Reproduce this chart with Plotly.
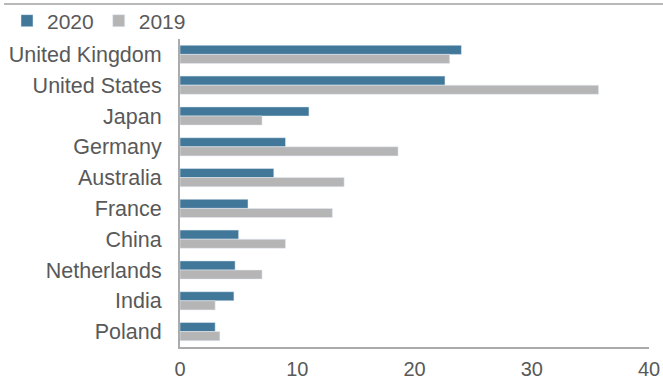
import plotly.graph_objects as go

countries = ["United Kingdom", "United States", "Japan", "Germany", "Australia",
             "France", "China", "Netherlands", "India", "Poland"]
v2020 = [24.0, 22.6, 11.0, 9.0, 8.0, 5.8, 5.0, 4.7, 4.6, 3.0]
v2019 = [23.0, 35.7, 7.0, 18.6, 14.0, 13.0, 9.0, 7.0, 3.0, 3.4]
xticks = [0, 10, 20, 30, 40]

fig = go.Figure()
fig.add_trace(go.Bar(y=countries, x=v2020, orientation="h", name="2020",
                     marker=dict(color="#41789A")))
fig.add_trace(go.Bar(y=countries, x=v2019, orientation="h", name="2019",
                     marker=dict(color="#B5B5B5")))

W, H = 663, 381
L, R, T, B = 180, 14, 39, 34

fig.update_layout(
    width=W, height=H,
    barmode="group", bargap=0.41, bargroupgap=0,
    paper_bgcolor="white", plot_bgcolor="white",
    margin=dict(l=0, r=0, t=0, b=0, autoexpand=False),
    font=dict(family="Liberation Sans, Arial, sans-serif", size=21, color="#595959"),
    legend=dict(orientation="h", x=7 / W, y=1 - 21 / H,
                xref="paper", yref="paper", yanchor="middle", xanchor="left",
                font=dict(size=21), bgcolor="rgba(0,0,0,0)",
                traceorder="normal"),
    xaxis=dict(domain=[L / W, 1 - R / W], range=[0, 40], tickvals=xticks,
               showgrid=False, zeroline=False,
               showline=True, linecolor="#ABABAB", linewidth=2, ticks="",
               automargin=False, tickfont=dict(size=20), ticklabelstandoff=3),
    yaxis=dict(domain=[B / H, 1 - T / H], autorange="reversed", showgrid=False,
               showline=True, linecolor="#ABABAB", linewidth=2, ticks="",
               automargin=False, tickfont=dict(size=21.5), ticklabelstandoff=12),
    shapes=[dict(type="rect", xref="paper", yref="paper", x0=4 / W, x1=1,
                 y0=1 - 5 / H, y1=1 - 3 / H, layer="below",
                 fillcolor="#B8B8B8", line=dict(width=0))],
)

fig.write_html("out.html", config={"displayModeBar": False},
               post_script="document.body.style.margin='0px';")
